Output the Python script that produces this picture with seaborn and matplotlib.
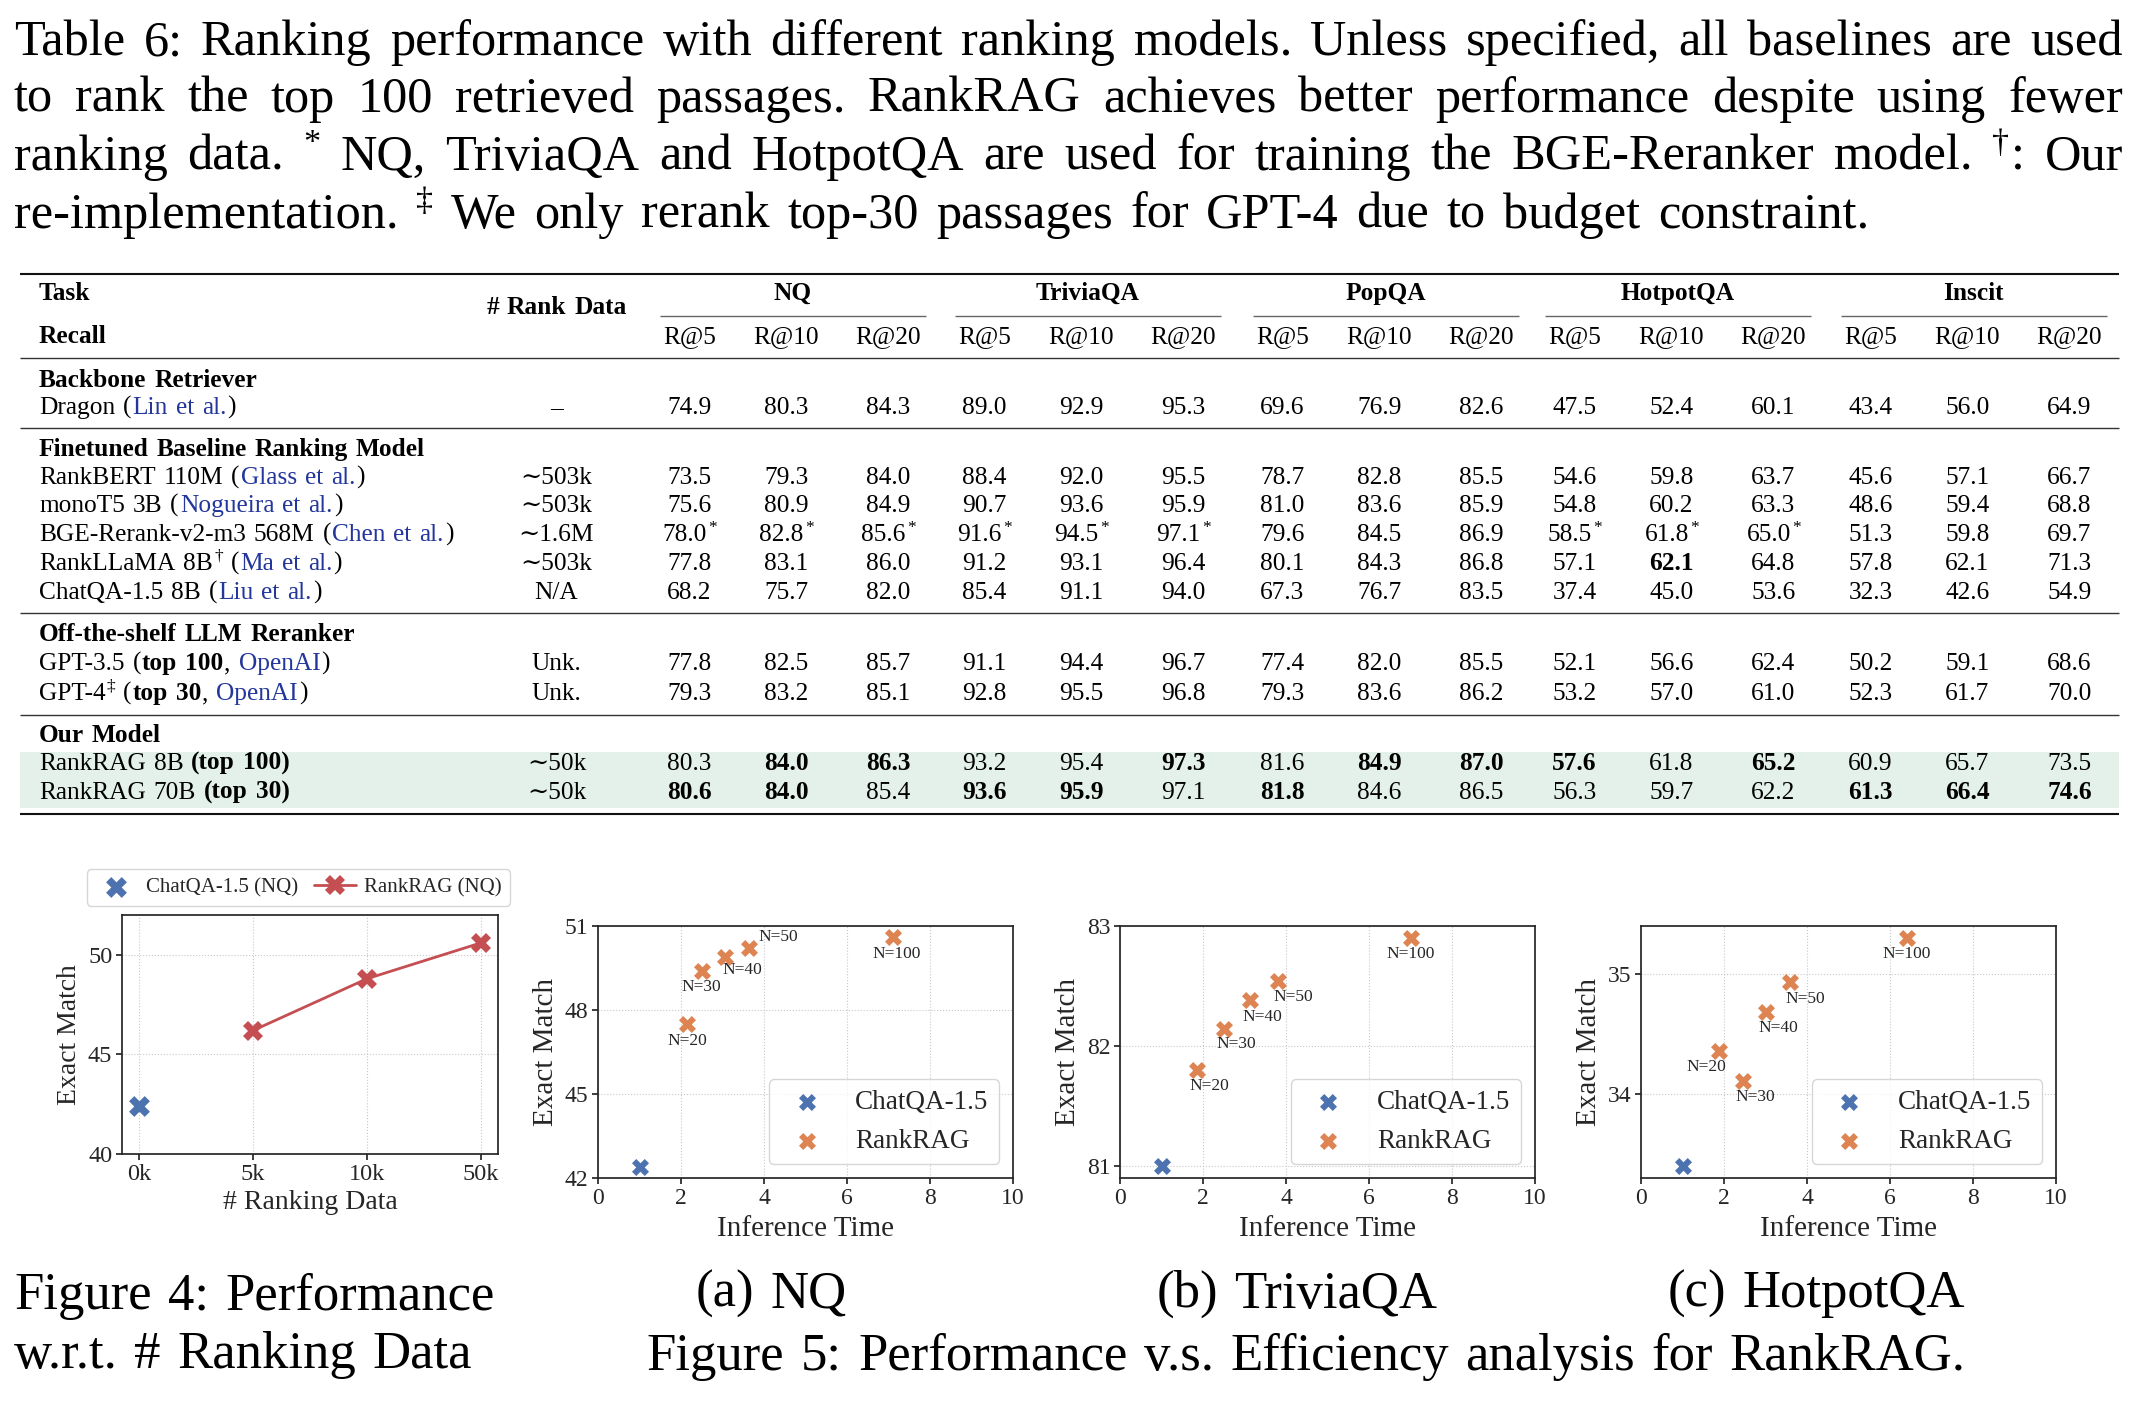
import re
import numpy as np
import matplotlib
matplotlib.use('Agg')
import matplotlib.pyplot as plt
import seaborn as sns

# ---- table data ----
datasets = ['NQ', 'TriviaQA', 'PopQA', 'HotpotQA', 'Inscit']
recall_k = ['R@5', 'R@10', 'R@20']
sections = ['Backbone Retriever', 'Finetuned Baseline Ranking Model',
            'Off-the-shelf LLM Reranker', 'Our Model']
# **bold**, [citation], ^superscript^
models = ['Dragon ([Lin et al.])',
          'RankBERT 110M ([Glass et al.])',
          'monoT5 3B ([Nogueira et al.])',
          'BGE-Rerank-v2-m3 568M ([Chen et al.])',
          'RankLLaMA 8B^†^ ([Ma et al.])',
          'ChatQA-1.5 8B ([Liu et al.])',
          'GPT-3.5 (**top 100**, [OpenAI])',
          'GPT-4^‡^ (**top 30**, [OpenAI])',
          'RankRAG 8B **(top 100)**',
          'RankRAG 70B **(top 30)**']
model_section = [0, 1, 1, 1, 1, 1, 2, 2, 3, 3]
rank_data = ['–', '∼503k', '∼503k', '∼1.6M', '∼503k', 'N/A', 'Unk.', 'Unk.', '∼50k', '∼50k']
recall = np.array([
    [74.9, 80.3, 84.3, 89.0, 92.9, 95.3, 69.6, 76.9, 82.6, 47.5, 52.4, 60.1, 43.4, 56.0, 64.9],
    [73.5, 79.3, 84.0, 88.4, 92.0, 95.5, 78.7, 82.8, 85.5, 54.6, 59.8, 63.7, 45.6, 57.1, 66.7],
    [75.6, 80.9, 84.9, 90.7, 93.6, 95.9, 81.0, 83.6, 85.9, 54.8, 60.2, 63.3, 48.6, 59.4, 68.8],
    [78.0, 82.8, 85.6, 91.6, 94.5, 97.1, 79.6, 84.5, 86.9, 58.5, 61.8, 65.0, 51.3, 59.8, 69.7],
    [77.8, 83.1, 86.0, 91.2, 93.1, 96.4, 80.1, 84.3, 86.8, 57.1, 62.1, 64.8, 57.8, 62.1, 71.3],
    [68.2, 75.7, 82.0, 85.4, 91.1, 94.0, 67.3, 76.7, 83.5, 37.4, 45.0, 53.6, 32.3, 42.6, 54.9],
    [77.8, 82.5, 85.7, 91.1, 94.4, 96.7, 77.4, 82.0, 85.5, 52.1, 56.6, 62.4, 50.2, 59.1, 68.6],
    [79.3, 83.2, 85.1, 92.8, 95.5, 96.8, 79.3, 83.6, 86.2, 53.2, 57.0, 61.0, 52.3, 61.7, 70.0],
    [80.3, 84.0, 86.3, 93.2, 95.4, 97.3, 81.6, 84.9, 87.0, 57.6, 61.8, 65.2, 60.9, 65.7, 73.5],
    [80.6, 84.0, 85.4, 93.6, 95.9, 97.1, 81.8, 84.6, 86.5, 56.3, 59.7, 62.2, 61.3, 66.4, 74.6],
])
best_cells = [(4, 10), (8, 1), (8, 2), (8, 5), (8, 7), (8, 8), (8, 9), (8, 11),
              (9, 0), (9, 1), (9, 3), (9, 4), (9, 6), (9, 12), (9, 13), (9, 14)]
seen_in_training = {3: [0, 1, 2, 3, 4, 5, 9, 10, 11]}

# ---- figure 4 data ----
rank_sizes = ['0k', '5k', '10k', '50k']
chatqa_rank = '0k'
chatqa_nq_em = 42.4
rankrag_ranks = ['5k', '10k', '50k']
rankrag_nq_em = [46.2, 48.8, 50.6]

# ---- figure 5 data ----
top_n = [20, 30, 40, 50, 100]
chatqa_time = 1.0
nq_time = [2.15, 2.5, 3.07, 3.65, 7.1]
nq_em = [47.5, 49.4, 49.9, 50.2, 50.6]
nq_chatqa = 42.4
tqa_time = [1.86, 2.5, 3.14, 3.8, 7.0]
tqa_em = [81.8, 82.14, 82.38, 82.54, 82.9]
tqa_chatqa = 81.0
hqa_time = [1.89, 2.45, 3.01, 3.58, 6.41]
hqa_em = [34.36, 34.11, 34.68, 34.93, 35.3]
hqa_chatqa = 33.4

caption = ["Table 6: Ranking performance with different ranking models. Unless specified, all baselines are used",
           "to rank the top 100 retrieved passages. RankRAG achieves better performance despite using fewer",
           "ranking data. ^*^ NQ, TriviaQA and HotpotQA are used for training the BGE-Reranker model. ^†^: Our",
           "re-implementation. ^‡^ We only rerank top-30 passages for GPT-4 due to budget constraint."]

sns.set_theme(style='ticks')
plt.rcParams['font.family'] = ['Liberation Serif', 'DejaVu Serif']

BLUE, ORANGE, RED = '#4C72B0', '#DD8452', '#C44E52'
CITE = '#23369B'
HILITE = '#E3F1EA'

W, H = 2142, 1420
fig = plt.figure(figsize=(W / 100, H / 100), dpi=100)
canvas = fig.add_axes([0, 0, 1, 1])
canvas.set_xlim(0, W)
canvas.set_ylim(H, 0)
canvas.axis('off')
R = fig.canvas.get_renderer()

MARK = {'**': ('**', 'b'), '[': (']', 'c'), '^': ('^', 's')}


def box(l, t, r, b):
    return [l / W, 1 - b / H, (r - l) / W, (b - t) / H]


def split_words(markup):
    # list of words, each a list of (text, style); spans may cross spaces
    words, cur = [], []
    for tok in re.split(r'(\*\*.+?\*\*|\[.+?\]|\^.+?\^)', markup):
        if not tok:
            continue
        kind = '**' if tok.startswith('**') and len(tok) > 4 else tok[0]
        if kind in MARK and tok.endswith(MARK[kind][0]) and len(tok) > len(kind):
            inner, style = tok[len(kind):-len(MARK[kind][0])], MARK[kind][1]
        else:
            inner, style = tok, 'n'
        for i, pc in enumerate(inner.split(' ')):
            if i > 0:
                words.append(cur)
                cur = []
            if pc:
                cur.append((pc, style))
    words.append(cur)
    return [w for w in words if w]


def rich(x, y, markup, size, ha='left', weight='normal', target=None):
    words = split_words(markup)
    px = size * 100 / 72
    placed, widths = [], []
    for w in words:
        parts = []
        for txt, st in w:
            kw = dict(fontsize=size, color='black', fontweight=weight, va='baseline', ha='left')
            dy = 0
            if st == 'b':
                kw['fontweight'] = 'bold'
            elif st == 'c':
                kw['color'] = CITE
            elif st == 's':
                kw['fontsize'] = size * 0.68
                dy = -0.36 * px
            t = canvas.text(0, y + dy, txt, **kw)
            parts.append((t, t.get_window_extent(R).width + 0.04 * px))
        placed.append(parts)
        widths.append(sum(p[1] for p in parts))
    gap = 0.27 * px
    if target is not None and len(words) > 1:
        gap = (target - sum(widths)) / (len(words) - 1)
    total = sum(widths) + gap * (len(words) - 1)
    if ha == 'center':
        x -= total / 2
    elif ha == 'right':
        x -= total
    for parts, ww in zip(placed, widths):
        cx = x
        for t, w in parts:
            t.set_x(cx)
            cx += w
        x += ww + gap
    return total


def fit_size(text, target_w, probe=30):
    t = canvas.text(0, 0, text, fontsize=probe)
    w = t.get_window_extent(R).width
    t.remove()
    return probe * target_w / w


# ---- caption ----
cap_size = fit_size(caption[3].replace('^', ''), 1857) * 0.97
cap_base = [55, 112, 170, 228]
cap_width = [2111, 2111, 2111, 1857]
for line, yb, tw in zip(caption, cap_base, cap_width):
    rich(14, yb, line, cap_size, target=tw)

# ---- table ----
TS = 18.3
group_left = [660, 955, 1253, 1545, 1841]
group_w = 266
col_off = [30, 127, 229]
col_x = [g + o for g in group_left for o in col_off]
rank_x = 557
label_x = 39

canvas.add_patch(plt.Rectangle((20, 752), 2099, 56, color=HILITE, lw=0, zorder=0))
for y, lw, c in [(273.6, 1.5, '#111111'), (357.5, 1.0, '#333333'), (428, 1.0, '#333333'),
                 (613.4, 1.0, '#333333'), (715, 1.0, '#333333'), (813.5, 1.5, '#111111')]:
    canvas.plot([20, 2119], [y, y], color=c, lw=lw, solid_capstyle='butt')
for g in group_left:
    canvas.plot([g, g + group_w], [316, 316], color='#666666', lw=1.0, solid_capstyle='butt')

rich(label_x, 300, 'Task', TS, weight='bold')
rich(label_x, 343, 'Recall', TS, weight='bold')
rich(rank_x, 314, '# Rank Data', TS, ha='center', weight='bold')
for g, name in zip(group_left, datasets):
    rich(g + group_w / 2, 300, name, TS, ha='center', weight='bold')
for j, x in enumerate(col_x):
    rich(x, 343, recall_k[j % 3], TS, ha='center')

section_y = [387, 456, 641, 742]
row_y = [414, 484, 512, 541, 570, 599, 670, 700, 770, 799]
for s, y in zip(sections, section_y):
    rich(label_x, y, s, TS, weight='bold')
best = set(best_cells)
for i, name in enumerate(models):
    y = row_y[i]
    rich(label_x, y, name, TS)
    rich(rank_x, y, rank_data[i], TS, ha='center')
    for j, x in enumerate(col_x):
        txt = f'{recall[i, j]:.1f}'
        if (i, j) in best:
            txt = f'**{txt}**'
        if j in seen_in_training.get(i, []):
            txt += '^*^'
        rich(x, y, txt, TS, ha='center')

# ---- figure 4 ----
ax4 = fig.add_axes(box(122, 915, 498, 1154))
xpos = {lab: i for i, lab in enumerate(rank_sizes)}
sns.scatterplot(x=[xpos[chatqa_rank]], y=[chatqa_nq_em], marker='X', s=225, color=BLUE,
                linewidth=0, label='ChatQA-1.5 (NQ)', ax=ax4, zorder=3)
sns.lineplot(x=[xpos[r] for r in rankrag_ranks], y=rankrag_nq_em, marker='X', markersize=15,
             markeredgewidth=0, color=RED, lw=2, label='RankRAG (NQ)', ax=ax4, zorder=3)
ax4.set_xlim(-0.15, 3.15)
ax4.set_ylim(40, 52)
ax4.set_xticks(range(len(rank_sizes)), rank_sizes)
ax4.set_yticks([40, 45, 50])
ax4.set_xlabel('# Ranking Data', fontsize=20, labelpad=4)
ax4.set_ylabel('Exact Match', fontsize=20)
ax4.tick_params(labelsize=17.5, length=4, pad=3)
ax4.grid(True, ls=':', lw=0.8, color='#c8c8c8')
ax4.legend(loc='lower center', bbox_to_anchor=(0.47, 1.0), ncol=2, fontsize=15,
           handletextpad=0.4, columnspacing=0.8, borderaxespad=0.45)

# ---- figure 5 ----
panels = [
    dict(left=598, time=nq_time, em=nq_em, base=nq_chatqa, ylim=(42, 51), yticks=[42, 45, 48, 51],
         off=[(0, -12), (0, -12), (12, -9.6), (20.5, 8.2), (3, -12)], sub='(a) NQ'),
    dict(left=1120, time=tqa_time, em=tqa_em, base=tqa_chatqa, ylim=(80.9, 83), yticks=[81, 82, 83],
         off=[(8.4, -11.8), (8.7, -10.8), (8.7, -11.6), (11.4, -11.3), (0, -11.8)], sub='(b) TriviaQA'),
    dict(left=1641, time=hqa_time, em=hqa_em, base=hqa_chatqa, ylim=(33.3, 35.4), yticks=[34, 35],
         off=[(-9.3, -11.5), (8.8, -11.5), (8.8, -11.2), (11.5, -12.1), (0, -11.5)], sub='(c) HotpotQA'),
]
for p in panels:
    ax = fig.add_axes(box(p['left'], 926, p['left'] + 415, 1178))
    sns.scatterplot(x=[chatqa_time], y=[p['base']], marker='X', s=150, color=BLUE,
                    linewidth=0, label='ChatQA-1.5', ax=ax, zorder=3)
    sns.scatterplot(x=p['time'], y=p['em'], marker='X', s=150, color=ORANGE,
                    linewidth=0, label='RankRAG', ax=ax, zorder=3)
    for n, t, e, o in zip(top_n, p['time'], p['em'], p['off']):
        ax.annotate(f'N={n}', (t, e), xytext=o, textcoords='offset points',
                    ha='center', va='center', fontsize=12.5, color='.15')
    ax.set_xlim(0, 10)
    ax.set_ylim(*p['ylim'])
    ax.set_xticks(range(0, 11, 2))
    ax.set_yticks(p['yticks'])
    ax.set_xlabel('Inference Time', fontsize=21, labelpad=5)
    ax.set_ylabel('Exact Match', fontsize=21)
    ax.tick_params(labelsize=17, length=4, pad=3)
    ax.grid(True, ls=':', lw=0.8, color='#c8c8c8')
    ax.legend(loc='lower right', fontsize=19.5)

# ---- figure captions ----
fc_size = fit_size('Figure 5: Performance v.s. Efficiency analysis for RankRAG.', 1296)
rich(14, 1309, 'Figure 4: Performance', fc_size)
rich(14, 1368, 'w.r.t. # Ranking Data', fc_size)
for p, cx in zip(panels, [772, 1298, 1817]):
    rich(cx, 1307, p['sub'], fc_size, ha='center')
rich(1307, 1370, 'Figure 5: Performance v.s. Efficiency analysis for RankRAG.', fc_size, ha='center')

fig.savefig('out.png', dpi=100)
